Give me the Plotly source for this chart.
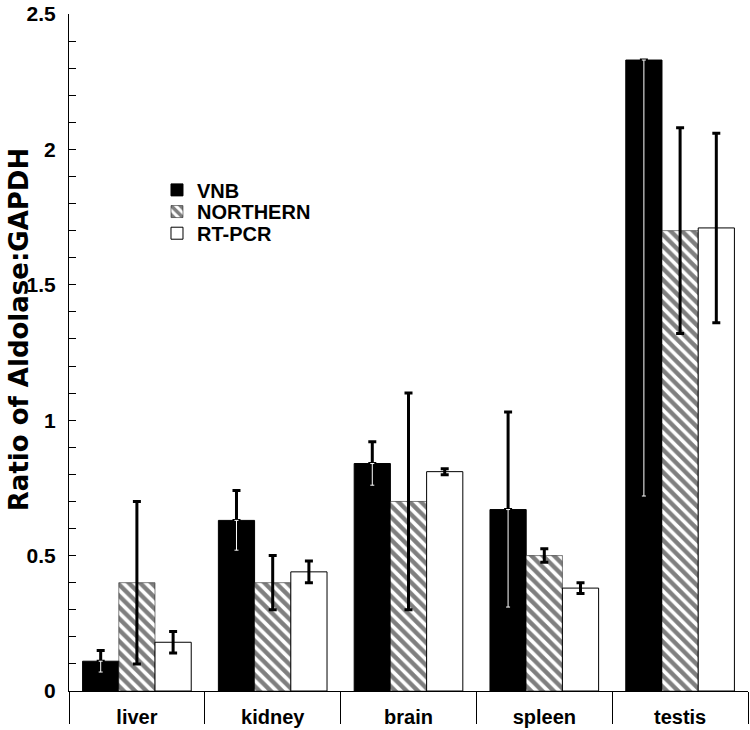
import plotly.graph_objects as go

categories = ["liver", "kidney", "brain", "spleen", "testis"]
vnb = [0.11, 0.63, 0.84, 0.67, 2.33]
vnb_err_plus = [0.04, 0.11, 0.08, 0.36, 0.0]
vnb_err_minus = [0.04, 0.11, 0.08, 0.36, 1.61]
northern = [0.40, 0.40, 0.70, 0.50, 1.70]
northern_err = [0.30, 0.10, 0.40, 0.025, 0.38]
rtpcr = [0.18, 0.44, 0.81, 0.38, 1.71]
rtpcr_err = [0.04, 0.04, 0.011, 0.02, 0.35]
y_tickvals = [0, 0.5, 1, 1.5, 2, 2.5]
y_ticktext = ["0", "0.5", "1", "1.5", "2", "2.5"]

FONT = "Liberation Sans"
TITLE_FONT = "DejaVu Sans"

fig = go.Figure()
fig.add_trace(go.Bar(
    x=categories, y=vnb, name="VNB", offsetgroup="a", legend="legend",
    marker=dict(color="black", line=dict(color="black", width=1)),
    error_y=dict(type="data", symmetric=False, array=vnb_err_plus,
                 arrayminus=[0] * len(vnb), color="black", thickness=3, width=4),
))
fig.add_trace(go.Bar(
    x=categories, y=vnb, name="VNB lower", offsetgroup="a", showlegend=False,
    hoverinfo="skip",
    marker=dict(color="rgba(0,0,0,0)", line=dict(width=0)),
    error_y=dict(type="data", symmetric=False, array=[0] * len(vnb),
                 arrayminus=vnb_err_minus, color="white", thickness=1, width=2),
))
fig.add_trace(go.Bar(
    x=categories, y=northern, name="NORTHERN", offsetgroup="b", legend="legend2",
    marker=dict(color="white", line=dict(color="black", width=0.5),
                pattern=dict(shape="\\", fgcolor="black", bgcolor="white",
                             size=8, solidity=0.55)),
    error_y=dict(type="data", array=northern_err, color="black", thickness=3, width=4),
))
fig.add_trace(go.Bar(
    x=categories, y=rtpcr, name="RT-PCR", offsetgroup="c", legend="legend3",
    marker=dict(color="white", line=dict(color="black", width=1)),
    error_y=dict(type="data", array=rtpcr_err, color="black", thickness=3, width=4),
))

leg_common = dict(xanchor="left", yanchor="top", bgcolor="rgba(0,0,0,0)",
                  borderwidth=0,
                  font=dict(family=FONT, size=20, color="black", weight="bold"))

fig.update_layout(
    width=750, height=730,
    margin=dict(l=69, r=2, t=12, b=39),
    paper_bgcolor="white", plot_bgcolor="white",
    barmode="group", bargap=0.2, bargroupgap=0,
    font=dict(family=FONT, color="black", weight="bold"),
    showlegend=True,
    legend=dict(x=0.1296, y=0.769, **leg_common),
    legend2=dict(x=0.1296, y=0.737, **leg_common),
    legend3=dict(x=0.1296, y=0.705, **leg_common),
    xaxis=dict(
        type="category", showline=True, linecolor="black", linewidth=1,
        ticks="outside", tickson="boundaries", ticklen=32, tickcolor="black",
        tickwidth=1, ticklabelstandoff=8,
        tickfont=dict(family=FONT, size=20, color="black", weight="bold"),
        showgrid=False, zeroline=False,
    ),
    yaxis=dict(
        range=[0, 2.5], showline=True, linecolor="black", linewidth=1,
        tickmode="array", tickvals=y_tickvals, ticktext=y_ticktext,
        ticks="inside", ticklen=7, ticklabelstandoff=8,
        tickcolor="black", tickwidth=1,
        minor=dict(dtick=0.1, ticks="inside", ticklen=7, tickcolor="black", tickwidth=1),
        tickfont=dict(family=FONT, size=21, color="black", weight="bold"),
        showgrid=False, zeroline=False,
    ),
    annotations=[dict(
        text="Ratio of Aldolase:GAPDH", textangle=-90, showarrow=False,
        xref="paper", yref="paper", x=-0.0736, y=0.533,
        xanchor="center", yanchor="middle",
        font=dict(family=TITLE_FONT, size=26, color="black", weight="bold"),
    )],
)

fig.write_html("out.html", config={"displayModeBar": False},
               post_script="document.body.style.margin='0px';")
